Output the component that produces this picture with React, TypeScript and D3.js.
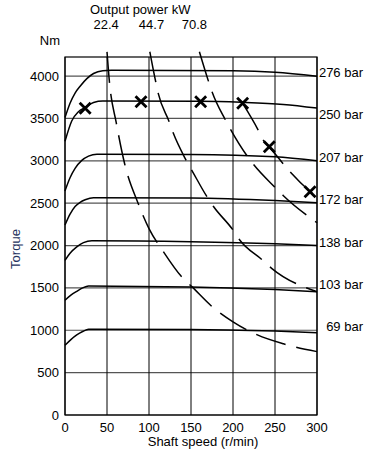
import React from 'react';
import * as d3 from 'd3';

const W = 389;
const H = 458;
const margin = { top: 57, right: 72, bottom: 43, left: 65 };

// axes
const speedTicks = [0, 50, 100, 150, 200, 250, 300];
const torqueTicks = [0, 500, 1000, 1500, 2000, 2500, 3000, 3500, 4000];

// torque curves per pressure, [shaft speed r/min, torque Nm]
const pressureLabels = ['276 bar', '250 bar', '207 bar', '172 bar', '138 bar', '103 bar', '69 bar'];
const pressureLabelTorque = [4000, 3500, 3000, 2500, 2000, 1500, 1000];
const bar276 = [[0, 3510], [6, 3680], [12, 3800], [18, 3880], [26, 3970], [34, 4030], [45, 4063], [55, 4068], [200, 4062], [250, 4045], [300, 3998]];
const bar250 = [[0, 3230], [8, 3470], [16, 3580], [24, 3630], [34, 3688], [45, 3705], [160, 3702], [210, 3690], [260, 3665], [300, 3622]];
const bar207 = [[0, 2645], [6, 2800], [12, 2910], [20, 3005], [28, 3055], [38, 3078], [150, 3075], [250, 3048], [300, 3000]];
const bar172 = [[0, 2242], [6, 2370], [12, 2460], [18, 2510], [24, 2540], [34, 2565], [150, 2560], [250, 2530], [300, 2505]];
const bar138 = [[0, 1825], [6, 1910], [14, 1985], [22, 2035], [32, 2057], [150, 2045], [250, 2020], [300, 2000]];
const bar103 = [[0, 1355], [7, 1415], [14, 1460], [21, 1500], [28, 1522], [150, 1512], [250, 1480], [300, 1455]];
const bar69 = [[0, 822], [7, 890], [14, 945], [21, 985], [28, 1012], [150, 1010], [250, 990], [300, 972]];
const pressureCurves = [bar276, bar250, bar207, bar172, bar138, bar103, bar69];

// constant output power lines (dashed)
const powerLabels = ['22.4', '44.7', '70.8'];
const powerLabelSpeed = [49, 103, 154];
const power22 = [[50, 4285], [53, 3920], [61, 3450], [71, 2965], [87, 2500], [100, 2200], [117, 1930], [139, 1630], [151, 1515], [175, 1280], [200, 1100], [229, 945], [260, 840], [300, 748]];
const power44 = [[101, 4287], [108, 3933], [111, 3796], [124, 3461], [129, 3324], [143, 3029], [153, 2852], [169, 2576], [177, 2458], [200, 2183], [208, 2065], [235, 1829], [246, 1731], [300, 1455]];
const power70 = [[160, 4287], [171, 3933], [175, 3815], [191, 3481], [197, 3371], [216, 3068], [225, 2950], [250, 2687], [260, 2588], [300, 2269]];
const maxPower = [[211.5, 3678], [230, 3363], [236, 3245], [243, 3166], [260, 2962], [269, 2859], [292, 2635], [300, 2570]];
const powerCurves = [power22, power44, power70, maxPower];

// marked operating points
const stars = [[24, 3619], [90.5, 3697], [161.5, 3697], [211.5, 3678], [243.2, 3166], [291.7, 2635]];

const font = '"Liberation Sans", Arial, sans-serif';

export default function App() {
  const x = d3.scaleLinear().domain([0, 300]).range([margin.left, W - margin.right]);
  const y = d3.scaleLinear().domain([0, 4225]).range([H - margin.bottom, margin.top]);

  const line = d3
    .line<number[]>()
    .x((d) => x(d[0]))
    .y((d) => y(d[1]))
    .curve(d3.curveMonotoneX);

  const top = margin.top;
  const bottom = H - margin.bottom;
  const left = margin.left;
  const right = W - margin.right;

  return (
    <svg
      width={W}
      height={H}
      style={{ position: 'absolute', left: 0, top: 0, background: '#fff' }}
      fontFamily={font}
      fontSize={13}
    >
      {/* grid */}
      {torqueTicks.map((t) => (
        <line key={'h' + t} x1={left} x2={right} y1={y(t)} y2={y(t)} stroke="#555" strokeWidth={1.2} />
      ))}
      {speedTicks.map((s) => (
        <line key={'v' + s} x1={x(s)} x2={x(s)} y1={top} y2={bottom} stroke="#000" strokeWidth={1} />
      ))}
      <rect x={left} y={top} width={right - left} height={bottom - top} fill="none" stroke="#000" strokeWidth={1.2} />

      {/* pressure curves */}
      {pressureCurves.map((c, i) => (
        <path key={'p' + i} d={line(c) || ''} fill="none" stroke="#000" strokeWidth={1.5} />
      ))}

      {/* power curves */}
      {powerCurves.map((c, i) => (
        <path
          key={'w' + i}
          d={line(c) || ''}
          fill="none"
          stroke="#000"
          strokeWidth={1.5}
          strokeDasharray="31 11"
        />
      ))}

      {stars.map(([s, t], i) => (
        <path
          key={'s' + i}
          transform={`translate(${x(s)},${y(t)})`}
          d="M-5.5,-5.5L5.5,5.5M-5.5,5.5L5.5,-5.5"
          stroke="#000"
          strokeWidth={2.8}
        />
      ))}

      {/* y axis labels */}
      {torqueTicks.map((t) => (
        <text key={'yl' + t} x={left - 6} y={y(t)} dy="0.35em" textAnchor="end" fill="#000">
          {t}
        </text>
      ))}
      <text x={left - 5} y={45} textAnchor="end" fill="#000">Nm</text>
      <text transform={`translate(20,249) rotate(-90)`} textAnchor="middle" fill="#26335e">
        Torque
      </text>

      {/* x axis labels */}
      {speedTicks.map((s) => (
        <text key={'xl' + s} x={x(s)} y={bottom + 17} textAnchor="middle" fill="#000">
          {s}
        </text>
      ))}
      <text x={203} y={446} textAnchor="middle" fill="#000">Shaft speed (r/min)</text>

      {/* top power labels */}
      <text x={90} y={13.5} fill="#000">Output power kW</text>
      {powerLabels.map((p, i) => (
        <text key={'pl' + i} x={x(powerLabelSpeed[i])} y={29} textAnchor="middle" fill="#000">
          {p}
        </text>
      ))}

      {/* right pressure labels */}
      {pressureLabels.map((p, i) => (
        <text key={'rl' + i} x={363} y={y(pressureLabelTorque[i]) + 1} textAnchor="end" fill="#000">
          {p}
        </text>
      ))}
    </svg>
  );
}
